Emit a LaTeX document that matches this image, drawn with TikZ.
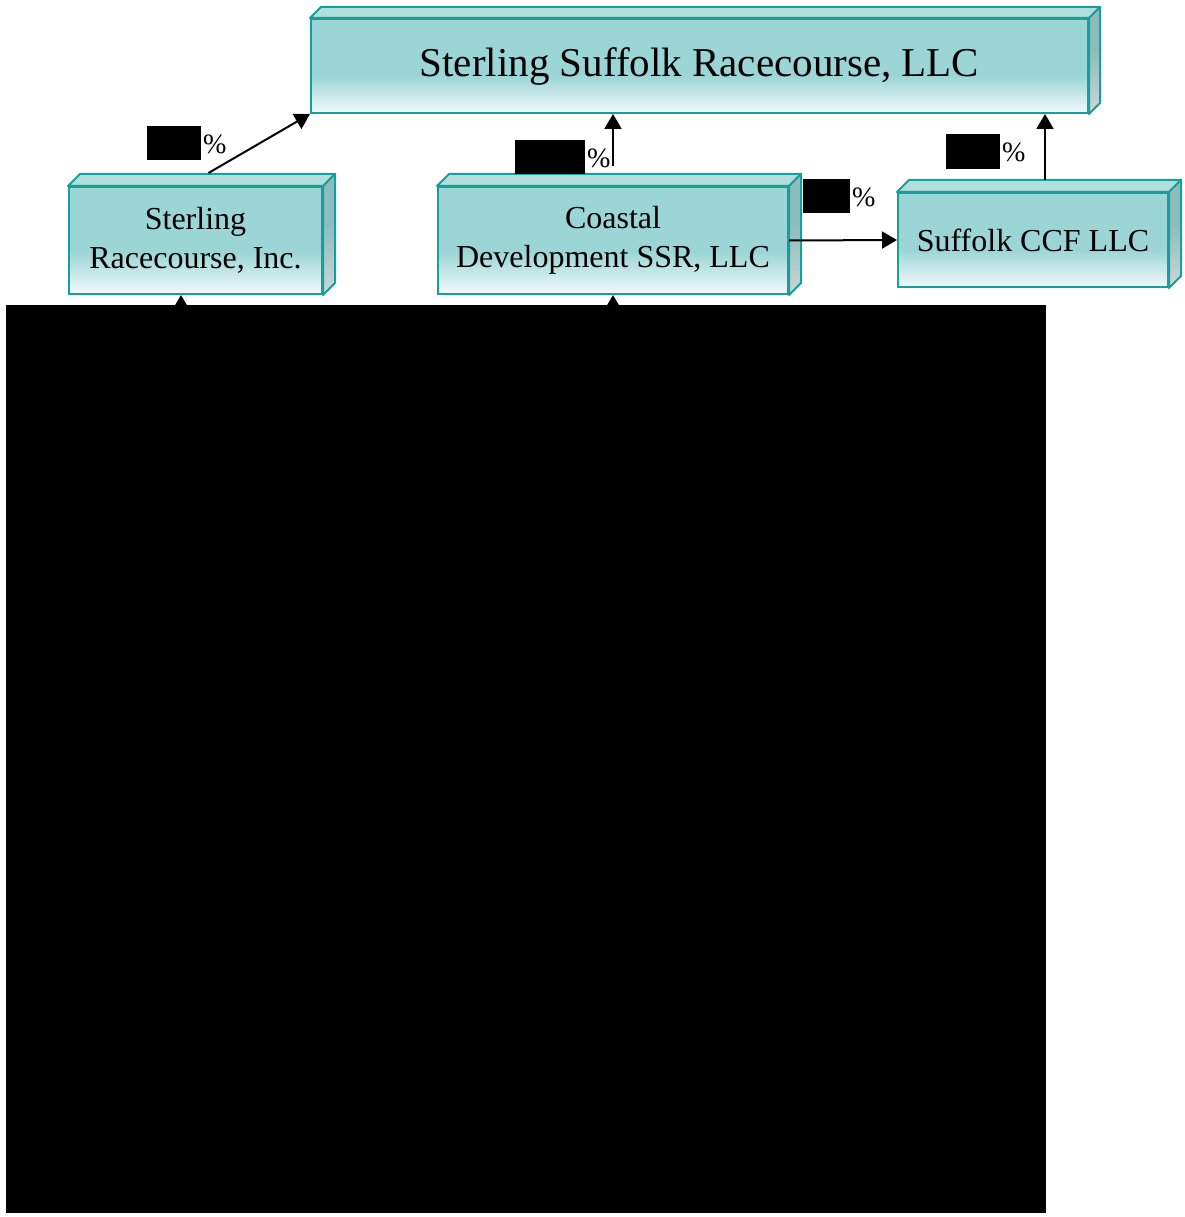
\documentclass[tikz,border=0pt]{standalone}
\usepackage{fontspec}
\setmainfont{Liberation Serif}
\usetikzlibrary{arrows.meta,calc}
\definecolor{bord}{RGB}{22,160,155}
\definecolor{ftop}{RGB}{155,213,213}
\definecolor{fbot}{RGB}{242,249,251}
\definecolor{topc}{RGB}{176,222,220}
\definecolor{sidetop}{RGB}{140,188,188}
\definecolor{sidebot}{RGB}{205,214,216}
\pgfdeclareverticalshading{frontsh}{100bp}{color(0bp)=(fbot); color(25bp)=(fbot); color(45bp)=(ftop); color(100bp)=(ftop)}
\pgfdeclareverticalshading{sidesh}{100bp}{color(0bp)=(sidebot); color(25bp)=(sidebot); color(55bp)=(sidetop); color(100bp)=(sidetop)}
\newcommand\boxfaces[2]{%
  \filldraw[topface] (#1.north west) -- ++(#2,-#2) -- ($(#1.north east)+(#2,-#2)$) -- (#1.north east) -- cycle;
  \filldraw[sideface] (#1.north east) -- ++(#2,-#2) -- ($(#1.south east)+(#2,-#2)$) -- (#1.south east) -- cycle;
}
\begin{document}
\begin{tikzpicture}[x=1pt,y=-1pt,
  frontbox/.style={draw=bord, line width=2pt, shading=frontsh, inner sep=0pt, align=center, font=\fontsize{32}{39}\selectfont},
  topface/.style={draw=bord, line width=2pt, fill=topc, line join=round},
  sideface/.style={draw=bord, line width=2pt, shading=sidesh, line join=round},
  arr/.style={line width=2pt, -{Triangle[length=15pt,width=17pt]}},
  pct/.style={inner sep=0pt, anchor=west, font=\fontsize{28}{30}\selectfont},
  redact/.style={fill=black}]
\useasboundingbox (0,0) rectangle (1184,1217);
\fill[white] (0,0) rectangle (1184,1217);

\node[frontbox, minimum width=777pt, minimum height=94pt, font=\fontsize{41}{46}\selectfont] (top) at (699.5,66) {Sterling Suffolk Racecourse, LLC};
\boxfaces{top}{11}
\node[frontbox, minimum width=253pt, minimum height=107pt] (sr) at (195.5,240.5) {Sterling\\Racecourse, Inc.};
\boxfaces{sr}{12}
\node[frontbox, minimum width=350pt, minimum height=107pt] (cd) at (613,240.5) {Coastal\\Development SSR, LLC};
\boxfaces{cd}{12}
\node[frontbox, minimum width=270pt, minimum height=94pt] (sc) at (1033,240) {Suffolk CCF LLC};
\boxfaces{sc}{12}

% arrows
\draw[arr] ($(sr.north)+(13,-13)$) -- (top.south west);
\coordinate (c1) at ($(cd.north)+(0,-20)$);
\draw[arr] (c1) -- (c1 |- top.south);
\draw[arr] (cd.east) -- (sc.west);
\coordinate (c2) at ($(sc.north)+(12,-12)$);
\draw[arr] (c2) -- (c2 |- top.south);
\coordinate (b1) at (181,340);
\coordinate (b2) at (613,340);
\draw[arr] (b1) -- (b1 |- sr.south);
\draw[arr] (b2) -- (b2 |- cd.south);

% percentage labels
\fill[redact] (147,126) rectangle (201,160);
\node[pct] (p1) at (203,144) {\%};
\fill[redact] (515,140) rectangle (585,174);
\node[pct] (p2) at (587,158) {\%};
\fill[redact] (803,179) rectangle (850,213);
\node[pct] (p3) at (852,197) {\%};
\fill[redact] (946,134) rectangle (1000,169);
\node[pct] (p4) at (1002,152) {\%};

% large redaction
\fill[redact] (6,305) rectangle (1046,1213);
\end{tikzpicture}
\end{document}
